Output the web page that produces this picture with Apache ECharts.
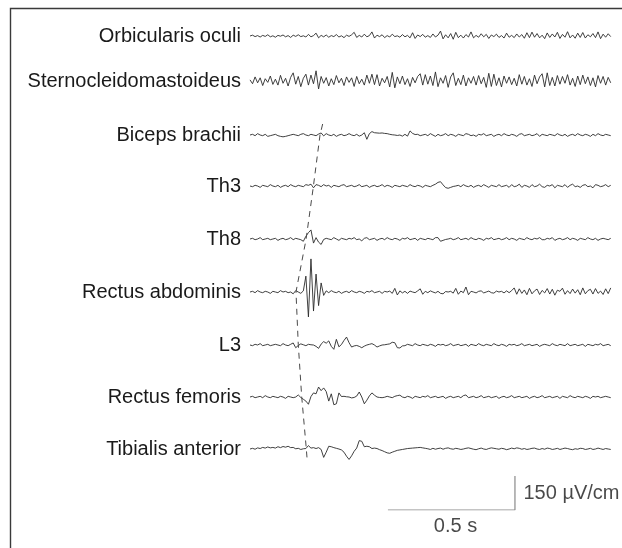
<!DOCTYPE html>
<html>
<head>
<meta charset="utf-8">
<title>EMG responses</title>
<script src="https://cdn.jsdelivr.net/npm/echarts@6/dist/echarts.min.js"></script>
<style>
  html, body { margin: 0; padding: 0; background: #fff; }
  #chart { width: 622px; height: 548px; }
</style>
</head>
<body>
<div id="chart"></div>
<script>
// muscle names, top to bottom
const muscles = [
  'Orbicularis oculi', 'Sternocleidomastoideus', 'Biceps brachii', 'Th3', 'Th8',
  'Rectus abdominis', 'L3', 'Rectus femoris', 'Tibialis anterior'
];

// one sample every 10 ms, values in µV
const sampleStep = 0.01;

const oculi = [
  0,4,-3,2,-5,3,-2,6,-4,1,
  -6,3,-1,5,-4,2,-7,4,-2,6,
  -3,1,-5,8,-4,2,14,-9,3,-4,
  5,-6,2,-3,7,-5,1,-8,4,-2,
  6,18,-7,3,-5,9,-4,2,20,-10,
  4,-3,6,-8,2,-5,9,-3,1,-6,
  7,-4,3,-9,16,-12,5,-3,8,-6,
  2,-7,10,-5,4,24,-14,6,-9,12,
  -16,18,-8,4,-10,7,-5,20,-9,3,
  -6,11,-4,8,-12,5,-3,9,-7,2,
  -10,14,-6,3,-8,10,-5,7,-11,16,
  -8,19,-6,12,-9,4,-13,15,-7,10,
  -5,18,-12,8,-6,21,-9,5,-11,14,
  -7,17,-10,6,-4,12,-8,20,-13,9,
  -6,11,-3
];

const sterno = [
  5,-12,18,-8,14,-20,10,-6,22,-15,
  8,-18,25,-10,12,-22,16,36,-14,20,
  -25,12,30,-18,26,-12,45,-35,20,-10,
  15,-22,10,-16,24,-8,12,-20,18,-6,
  14,-24,20,-12,8,-18,26,-10,30,-16,
  28,-22,12,-8,20,-26,38,-30,18,-12,
  22,-16,10,-24,16,-8,20,32,-18,28,
  -14,22,-20,40,-25,14,-10,24,-28,18,
  36,-20,12,-16,26,-22,14,-10,20,-18,
  24,-12,16,-28,34,-24,30,-20,14,-26,
  22,-10,18,-16,12,-22,28,-14,20,-18,
  10,-24,26,-12,18,32,-26,36,-20,16,
  -22,24,-14,20,-10,28,-18,12,-24,22,
  -16,26,-12,18,-20,14,-26,24,-10,20,
  -18,16,-8
];

const biceps = [
  0,3,-3,6,0,-3,3,-6,-3,0,
  3,-3,-6,-8,-6,-3,0,3,0,-3,
  3,6,0,-3,3,0,-3,4,9,-4,
  6,0,-3,3,-6,0,3,-3,0,6,
  0,-3,3,-5,0,10,-19,6,15,10,
  9,8,9,7,6,3,1,0,-2,0,
  -5,3,-5,18,7,2,3,-3,0,3,
  -3,6,0,-6,3,-3,0,6,-3,3,
  0,-6,3,0,-3,6,3,-3,0,-6,
  3,0,6,-3,0,3,-6,0,3,-3,
  6,0,-3,3,0,-6,3,6,-3,0,
  3,-3,0,6,-6,3,0,-3,3,0,
  -3,6,0,-3,3,-6,0,3,-3,6,
  0,-3,3,0,-6,3,-3,6,0,-3,
  3,0,-3
];

const th3 = [
  0,-3,3,0,-6,3,0,-3,6,0,
  -3,3,-6,0,3,-3,6,0,-3,3,
  0,-3,6,3,8,-8,6,3,-3,6,
  0,3,-6,3,0,-3,3,6,-3,0,
  3,-3,0,6,-3,0,3,-6,0,3,
  -3,0,6,-3,3,0,-6,3,0,-3,
  3,0,-3,6,0,-3,3,0,-6,3,
  0,-3,3,8,16,19,5,-7,-10,-6,
  -2,0,3,-3,6,0,-3,3,-6,0,
  3,-3,6,0,-6,3,0,-3,6,-3,
  0,3,-6,6,-3,0,8,-6,3,0,
  -6,6,-3,0,8,-3,-6,3,0,6,
  -8,3,0,-3,6,-6,3,8,-3,0,
  -6,3,6,-3,0,-8,6,3,-3,0,
  6,-3,3
];

const th8 = [
  0,3,-3,0,6,-3,0,3,-3,0,
  3,-6,0,3,-3,0,6,-3,3,0,
  -3,-10,12,28,40,-18,6,-14,-24,-2,
  3,0,-3,6,0,-6,3,0,-3,3,
  0,6,-3,0,-8,3,6,-3,0,3,
  -6,0,3,-3,6,0,-3,3,0,-6,
  3,0,6,-3,0,3,-6,3,0,-3,
  3,0,-3,6,6,-10,-6,-2,0,3,
  -3,0,6,-3,0,3,-3,6,0,-3,
  3,0,-6,3,0,6,-3,0,3,-3,
  0,6,-3,3,0,-6,3,0,-3,6,
  0,-3,3,0,6,-3,-3,3,0,6,
  -6,0,3,-3,0,6,-3,3,0,-6,
  3,0,-3,6,0,-3,3,-6,0,3,
  0,-3,3
];

const rectusAbd = [
  0,3,-3,6,0,-3,3,0,-6,3,
  0,-3,6,0,3,-3,0,-8,6,0,
  -6,5,70,-110,146,-84,79,-60,40,-15,
  5,-3,6,0,-3,3,-6,0,3,-3,
  6,0,-3,3,0,-6,3,0,6,-3,
  0,3,-6,3,0,4,-6,16,-13,5,
  -4,3,-6,4,0,-3,5,14,-10,3,
  -3,5,0,-4,3,-6,-8,2,0,3,
  -5,16,-10,4,-3,22,-12,3,0,-4,
  3,5,-4,0,4,-3,-5,4,0,3,
  -4,5,-3,6,18,-10,14,-6,9,-12,
  16,-8,5,13,-11,7,-4,15,-9,12,
  -14,8,3,17,-10,6,-7,13,-5,10,
  -12,18,-8,6,12,-9,15,-6,4,-11,
  14,-7,18
];

const l3 = [
  0,-3,3,0,6,-3,0,3,-3,0,
  3,0,-3,6,0,-3,3,9,-12,-2,
  5,1,-3,3,1,0,-6,-15,4,15,
  8,18,-6,-19,25,-8,2,20,35,10,
  -9,-4,-2,-6,-12,-5,0,3,6,0,
  -9,-4,0,1,3,5,12,10,-12,-13,
  -4,-3,3,0,-3,6,0,-3,3,0,
  -3,3,0,-6,3,0,3,-3,0,6,
  -3,0,3,-3,0,3,-6,3,0,-3,
  6,0,-3,3,0,-3,6,0,-3,3,
  0,-6,3,0,3,-3,0,6,-3,0,
  3,-3,0,3,-6,0,3,0,-3,6,
  0,-3,3,0,-3,6,-3,0,3,-3,
  0,3,-6,3,0,-3,3,0,6,-3,
  0,3,-3
];

const rectusFem = [
  0,3,-3,0,3,-3,6,0,-3,3,
  0,-3,3,0,-6,3,0,-3,0,9,
  -2,-10,-18,-32,2,18,14,44,28,40,
  24,-18,14,-34,-30,18,2,3,1,0,
  -4,-2,4,22,0,-30,-14,5,18,8,
  0,-2,-3,-1,3,0,-3,3,6,8,
  0,-3,3,0,-6,3,0,-3,3,0,
  6,-3,0,3,-3,0,3,-6,0,3,
  -3,0,3,-3,6,9,-3,0,3,-3,
  0,6,-3,0,3,-3,0,3,-6,0,
  3,-3,0,6,-3,0,3,-3,0,3,
  -6,0,3,-3,0,6,-3,0,3,-3,
  0,3,-6,3,0,-3,6,0,-3,3,
  0,-3,3,0,-6,3,0,3,-3,0,
  3,0,-3
];

const tibialis = [
  0,3,-1,5,2,7,4,9,5,7,
  4,10,6,11,8,12,6,7,1,3,
  -2,1,2,15,4,6,2,6,-2,-37,
  -14,12,10,6,3,0,-4,-14,-32,-46,
  -30,-10,4,37,34,10,12,10,2,4,
  2,-3,-7,-12,-17,-19,-14,-10,-6,-4,
  -2,0,2,3,4,5,6,7,5,3,
  1,-2,3,-1,2,4,-1,3,5,1,
  -1,3,1,-2,0,3,5,2,-1,-3,
  1,4,0,-2,2,5,3,1,-1,3,
  1,-3,0,4,1,5,3,-1,2,-2,
  0,3,4,0,-2,2,-1,4,2,-2,
  0,3,-2,1,4,2,-1,-3,1,-1,
  3,2,-2,0,3,-2,0,4,1,-2,
  2,0,-2
];

const traces = [oculi, sterno, biceps, th3, th8, rectusAbd, l3, rectusFem, tibialis];

// response onset (dashed line): row index and time in s
const onsetRows  = [1.79, 2, 3, 4, 5, 6, 7, 8, 8.17];
const onsetTimes = [0.286, 0.2756, 0.249, 0.2205, 0.181, 0.190, 0.2035, 0.2217, 0.2244];

// calibration bars
const scaleStart = 0.543;
const scaleTime = 0.5;
const scaleAmp = 150;

const chart = echarts.init(document.getElementById('chart'));

const left = 250, right = 10;
const tMax = 1.425;
const rowCenters = [32, 81, 135, 186, 239, 292, 345, 397, 449];
const rowHalf = 40;                       // px
const yHalf = rowHalf * scaleAmp / 34;    // 34 px per 150 µV
const font = 'Liberation Sans, Arial, Helvetica, sans-serif';

const grids = [], xAxes = [], yAxes = [], series = [];

traces.forEach((values, i) => {
  grids.push({ left: left, right: right, top: rowCenters[i] - rowHalf, height: rowHalf * 2 });
  xAxes.push({ gridIndex: i, type: 'value', min: 0, max: tMax, show: false });
  yAxes.push({
    gridIndex: i, type: 'value', min: -yHalf, max: yHalf,
    name: muscles[i], nameLocation: 'middle', nameRotate: 0, nameGap: 9,
    nameTextStyle: { align: 'right', verticalAlign: 'middle', fontSize: 20, color: '#1a1a1a', fontFamily: font },
    axisLine: { show: false }, axisTick: { show: false },
    axisLabel: { show: false }, splitLine: { show: false }
  });
  series.push({
    type: 'line', xAxisIndex: i, yAxisIndex: i,
    data: values.map((v, k) => [k * sampleStep, v]),
    symbol: 'none', silent: true,
    lineStyle: { color: '#2a2a2a', width: 0.9 }
  });
});

// calibration grid
const sIdx = traces.length;
grids.push({ left: left, right: right, top: 476, height: 34 });
xAxes.push({ gridIndex: sIdx, type: 'value', min: 0, max: tMax, show: false });
yAxes.push({ gridIndex: sIdx, type: 'value', min: 0, max: scaleAmp, show: false });
series.push({
  type: 'line', xAxisIndex: sIdx, yAxisIndex: sIdx, symbol: 'none', silent: true,
  data: [[scaleStart, 0], [scaleStart + scaleTime, 0], [scaleStart + scaleTime, scaleAmp]],
  lineStyle: { color: '#8a8a8a', width: 1.2 }
});
series.push({
  type: 'scatter', xAxisIndex: sIdx, yAxisIndex: sIdx, symbolSize: 1, silent: true,
  itemStyle: { color: 'rgba(0,0,0,0)' },
  label: { show: true, fontSize: 20, color: '#1a1a1a', fontFamily: font },
  data: [
    { value: [scaleStart + scaleTime, scaleAmp / 2], label: { formatter: scaleAmp + ' µV/cm', position: 'right', distance: 8 } },
    { value: [scaleStart + scaleTime / 2, 0], label: { formatter: scaleTime + ' s', position: 'bottom', distance: 6, offset: [4, 0] } }
  ]
});

// overlay grid for the onset line, y in row units
const oIdx = sIdx + 1;
const rowPx = 52.33, row0 = 30.33;
grids.push({ left: left, right: right, top: row0 - rowPx * 0.5, height: rowPx * 10 });
xAxes.push({ gridIndex: oIdx, type: 'value', min: 0, max: tMax, show: false });
yAxes.push({ gridIndex: oIdx, type: 'value', min: -0.5, max: 9.5, inverse: true, show: false });
series.push({
  type: 'line', xAxisIndex: oIdx, yAxisIndex: oIdx, symbol: 'none', silent: true,
  data: onsetTimes.map((t, k) => [t, onsetRows[k]]),
  lineStyle: { color: '#4a4a4a', width: 1, type: [6, 5] }
});

chart.setOption({
  animation: false,
  backgroundColor: '#fff',
  grid: grids,
  xAxis: xAxes,
  yAxis: yAxes,
  series: series,
  graphic: [{
    type: 'polyline',
    shape: { points: [[10.5, 548], [10.5, 8.5], [622, 8.5]] },
    style: { stroke: '#3a3a3a', lineWidth: 1.4, fill: null },
    silent: true
  }]
});
</script>
</body>
</html>
